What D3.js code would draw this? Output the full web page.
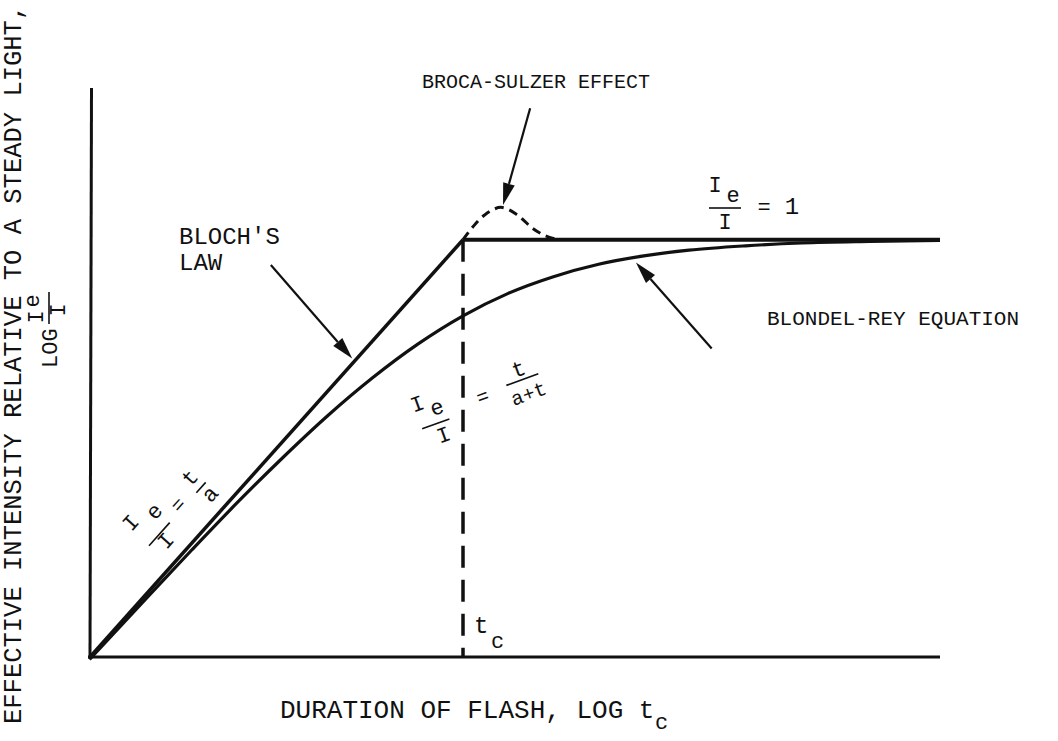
<!DOCTYPE html>
<html><head><meta charset="utf-8">
<script src="https://cdn.jsdelivr.net/npm/d3@7"></script>
<style>
html,body{margin:0;padding:0;background:#fff;}
svg text{font-family:'Liberation Mono',monospace;fill:#111;}
</style></head>
<body><svg id="c" width="1058" height="741"></svg>
<script>
// log t (relative to t_c) and log(Ie/I) (relative to steady light)
const xDomain = [-1.65, 2.11];
const yDomain = [-1.65, 0.6];
const blochX = [-1.65, 0];
const blochY = [-1.65, 0];
const plateauX = [0, 2.11];
const plateauY = [0, 0];
const blondelX = [-1.652, -1.4, -1.2, -1.0, -0.8, -0.6, -0.4, -0.2, 0, 0.2, 0.4, 0.6, 0.8, 1.0, 1.25, 1.5, 1.8, 2.11];
const blondelY = [-1.66, -1.417, -1.227, -1.041, -0.864, -0.697, -0.546, -0.413, -0.301, -0.212, -0.146, -0.097, -0.064, -0.041, -0.024, -0.013, -0.007, -0.003];
const brocaX = [0, 0.04, 0.097, 0.168, 0.239, 0.305, 0.354, 0.41];
const brocaY = [0, 0.047, 0.099, 0.128, 0.099, 0.047, 0.02, 0.002];
const tcX = 0;
// annotation arrows: [tailX, tailY, tipX, tipY] in data units
const arrowBloch = [-0.85, -0.1, -0.49, -0.47];
const arrowBroca = [0.297, 0.52, 0.177, 0.137];
const arrowBlondel = [1.1, -0.43, 0.765, -0.09];

const svg = d3.select('#c');
const x = d3.scaleLinear().domain(xDomain).range([90, 940]);
const y = d3.scaleLinear().domain(yDomain).range([657, 88]);
const pts = (xs, ys) => xs.map((v, i) => [x(v), y(ys[i])]);
const line = d3.line();

// axes
svg.append('line').attr('x1', x(xDomain[0])).attr('y1', y(yDomain[0]) + 1.5)
  .attr('x2', x(xDomain[0]) + 1.5).attr('y2', y(yDomain[1]))
  .attr('stroke', '#111').attr('stroke-width', 3);
svg.append('line').attr('x1', x(xDomain[0]) - 2).attr('y1', y(yDomain[0]))
  .attr('x2', x(xDomain[1])).attr('y2', y(yDomain[0]))
  .attr('stroke', '#111').attr('stroke-width', 3);

// t_c dashed vertical
svg.append('line').attr('x1', x(tcX)).attr('x2', x(tcX))
  .attr('y1', y(0)).attr('y2', y(yDomain[0]))
  .attr('stroke', '#111').attr('stroke-width', 3.5).attr('stroke-dasharray', '22,12');

// Bloch's law
svg.append('path').attr('d', line(pts(blochX, blochY)))
  .attr('fill', 'none').attr('stroke', '#111').attr('stroke-width', 3.5);
// plateau
svg.append('path').attr('d', line(pts(plateauX, plateauY)))
  .attr('fill', 'none').attr('stroke', '#111').attr('stroke-width', 4);
// Blondel-Rey
svg.append('path').attr('d', d3.line().curve(d3.curveMonotoneX)(pts(blondelX, blondelY)))
  .attr('fill', 'none').attr('stroke', '#111').attr('stroke-width', 3.2);
// Broca-Sulzer bump
svg.append('path').attr('d', d3.line().curve(d3.curveCatmullRom)(pts(brocaX, brocaY)))
  .attr('fill', 'none').attr('stroke', '#111').attr('stroke-width', 3).attr('stroke-dasharray', '9,6');

function arrow(a) {
  const x1 = x(a[0]), y1 = y(a[1]), x2 = x(a[2]), y2 = y(a[3]);
  const ang = Math.atan2(y2 - y1, x2 - x1);
  const L = 22, W = 6;
  const bx = x2 - L * Math.cos(ang), by = y2 - L * Math.sin(ang);
  svg.append('line').attr('x1', x1).attr('y1', y1).attr('x2', bx).attr('y2', by)
    .attr('stroke', '#111').attr('stroke-width', 2.2);
  const p = [[x2, y2], [bx + W * Math.sin(ang), by - W * Math.cos(ang)], [bx - W * Math.sin(ang), by + W * Math.cos(ang)]];
  svg.append('path').attr('d', 'M' + p.join('L') + 'Z').attr('fill', '#111');
}
arrow(arrowBloch); arrow(arrowBroca); arrow(arrowBlondel);

function txt(g, s, tx, ty, size, anchor) {
  return g.append('text').attr('x', tx).attr('y', ty).attr('font-size', size)
    .attr('text-anchor', anchor || 'start').text(s);
}
function bar(g, x1, y1, x2, y2) {
  g.append('line').attr('x1', x1).attr('y1', y1).attr('x2', x2).attr('y2', y2)
    .attr('stroke', '#111').attr('stroke-width', 1.6);
}

// axis titles
const gy = svg.append('g').attr('transform', 'translate(21,724) rotate(-90)');
txt(gy, 'EFFECTIVE INTENSITY RELATIVE TO A STEADY LIGHT,', 0, 0, 25.5);
const gy2 = svg.append('g').attr('transform', 'translate(57,368) rotate(-90)');
txt(gy2, 'LOG', 0, 0, 22);
txt(gy2, 'I', 51, -14, 22, 'middle');
txt(gy2, 'e', 67, -18, 22, 'middle');
bar(gy2, 44, -8, 76, -8);
txt(gy2, 'I', 58, 8, 22, 'middle');

txt(svg, 'DURATION OF FLASH, LOG t', 280, 718, 26);
txt(svg, 'c', 655, 729, 22);

// t_c label
txt(svg, 't', 474, 633, 24);
txt(svg, 'c', 491, 648, 22);

// labels
txt(svg, 'BROCA-SULZER EFFECT', 422, 88, 20);
txt(svg, "BLOCH'S", 179, 244, 24);
txt(svg, 'LAW', 179, 270, 24);
txt(svg, 'BLONDEL-REY EQUATION', 767, 325, 21);

// Ie/I = 1
txt(svg, 'I', 715, 192, 22, 'middle');
txt(svg, 'e', 733, 202, 22, 'middle');
bar(svg, 709, 208, 741, 208);
txt(svg, 'I', 725, 229, 22, 'middle');
txt(svg, '=', 764, 214, 22, 'middle');
txt(svg, '1', 792, 214, 24, 'middle');

// Ie/I = t/a along Bloch's line
const g1 = svg.append('g').attr('transform', 'translate(130,522) rotate(-48.2)');
txt(g1, 'I', 0, 8, 22, 'middle');
txt(g1, 'e', 24, 18, 22, 'middle');
bar(g1, -5, 30, 26, 30);
txt(g1, 'I', 10, 46, 22, 'middle');
txt(g1, '=', 45, 31, 20, 'middle');
txt(g1, 't', 73, 22, 22, 'middle');
bar(g1, 66, 30, 80, 30);
txt(g1, 'a', 74, 48, 22, 'middle');

// Ie/I = t/(a+t)
const g2 = svg.append('g').attr('transform', 'translate(417,403) rotate(-20)');
txt(g2, 'I', 0, 8, 22, 'middle');
txt(g2, 'e', 17, 18, 22, 'middle');
bar(g2, -4, 26, 25, 26);
txt(g2, 'I', 14, 46, 22, 'middle');
txt(g2, '=', 64, 23, 20, 'middle');
txt(g2, 't', 107, 10, 22, 'middle');
bar(g2, 90, 14, 124, 14);
txt(g2, 'a+t', 108, 36, 20, 'middle');
</script></body></html>
